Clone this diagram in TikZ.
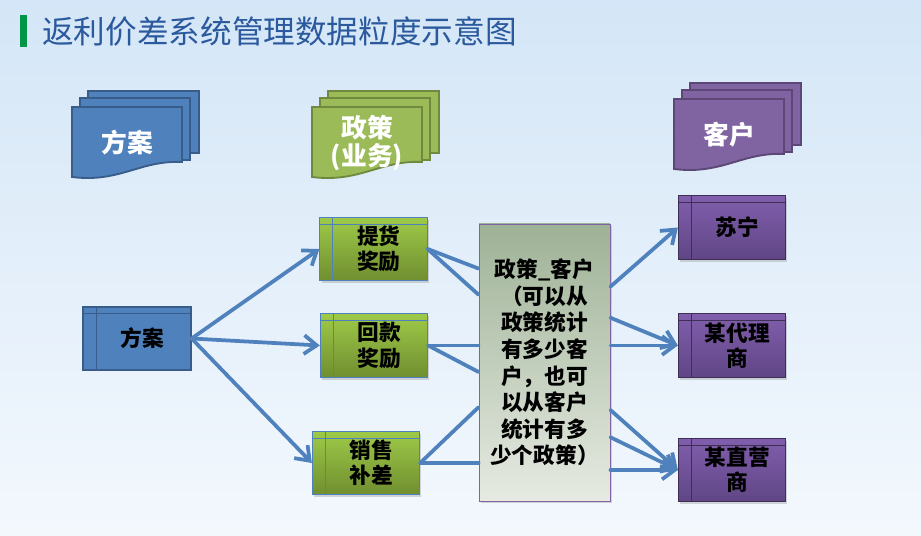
\documentclass[tikz,border=0pt]{standalone}
\usepackage{fontspec}
\setmainfont{Noto Sans CJK SC}
\usetikzlibrary{arrows.meta,calc,shadows}
\definecolor{bgTop}{RGB}{212,230,247}
\definecolor{bgBot}{RGB}{243,248,253}
\definecolor{ttlB}{RGB}{43,89,157}
\definecolor{ttlG}{RGB}{0,150,70}
\definecolor{figB}{RGB}{79,129,189}
\definecolor{figBd}{RGB}{56,93,138}
\definecolor{figG}{RGB}{155,187,89}
\definecolor{figGd}{RGB}{113,137,63}
\definecolor{figGt}{RGB}{158,202,72}
\definecolor{figGb}{RGB}{112,142,48}
\definecolor{figP}{RGB}{128,100,162}
\definecolor{figPd}{RGB}{92,71,118}
\definecolor{figPt}{RGB}{128,94,172}
\definecolor{figPb}{RGB}{96,70,134}
\definecolor{figPe}{RGB}{62,47,84}
\definecolor{pcTop}{RGB}{158,178,150}
\definecolor{pcBot}{RGB}{230,234,226}

% stack of pages: name, x, y (top left of front page), fill, border, label
\newcommand{\docstack}[6]{%
\begin{scope}[shift={(#2,#3)}]
\filldraw[fill=#4,draw=#5,line width=1.6pt] (16,-16) rectangle (127,46);
\filldraw[fill=#4,draw=#5,line width=1.6pt] (8,-9) rectangle (118,53);
\filldraw[fill=#4,draw=#5,line width=1.6pt] (0,0) -- (110,0) -- (110,55) .. controls (68,53) and (48,76) .. (0,70) -- cycle;
\node[stacklabel] (#1) at (55,36) {#6};
\end{scope}}

\begin{document}
\begin{tikzpicture}[x=0.03cm,y=-0.03cm,
  stacklabel/.style={white,align=center,inner sep=0pt,font=\bfseries\fontsize{22}{24}\selectfont},
  store/.style={draw=#1,line width=.8pt,minimum width=3.22cm,minimum height=1.9cm,inner sep=0pt,
    text width=2.9cm,align=center,execute at begin node={\advance\leftskip by 9pt},
    font=\bfseries\fontsize{18.5}{21.5}\selectfont,
    path picture={\draw[#1,line width=.8pt]
      ([yshift=-6pt]path picture bounding box.north west) -- ([yshift=-6pt]path picture bounding box.north east)
      ([xshift=11pt]path picture bounding box.north west) -- ([xshift=11pt]path picture bounding box.south west);}},
  gstore/.style={store=figB,top color=figGt,bottom color=figGb,drop shadow={opacity=.3,shadow xshift=1.5pt,shadow yshift=-2pt}},
  pstore/.style={store=figPe,top color=figPt,bottom color=figPb,drop shadow={opacity=.3,shadow xshift=1.5pt,shadow yshift=-2pt}},
  conn/.style={figB,line width=3.2pt,line cap=round},
  arr/.style={conn,-{Straight Barb[length=3.8mm,width=5.6mm]}}]
\shade[top color=bgTop,bottom color=bgBot] (0,0) rectangle (921,536);
\useasboundingbox (0,0) rectangle (921,536);
% title
\fill[ttlG] (20,15) rectangle (27,47);
\node[anchor=west,ttlB,inner sep=0pt,font=\fontsize{27}{27}\selectfont] (title) at (42,31) {返利价差系统管理数据粒度示意图};
% headers
\docstack{hdPlan}{72}{107}{figB}{figBd}{方案}
\docstack{hdPolicy}{312}{107}{figG}{figGd}{政策\\(业务)}
\docstack{hdCust}{674}{99}{figP}{figPd}{客户}
% boxes
\node[store=figBd,fill=figB,line width=1.6pt] (plan) at (137,338.5) {方案};
\node[gstore] (gA) at (373.5,249) {提货\\奖励};
\node[gstore] (gB) at (374,345.5) {回款\\奖励};
\node[gstore] (gC) at (366,463) {销售\\补差};
\node[draw=figP,line width=.8pt,top color=pcTop,bottom color=pcBot,minimum width=3.93cm,minimum height=8.31cm,
  align=center,inner sep=0pt,font=\bfseries\fontsize{18.5}{22.7}\selectfont,
  drop shadow={opacity=.3,shadow xshift=1.5pt,shadow yshift=-2pt}] (pc) at (544.5,362.5)
  {政策\_客户\\（可以从\\政策统计\\有多少客\\户，也可\\以从客户\\统计有多\\少个政策）};
\node[pstore] (cA) at (732,227.5) {苏宁};
\node[pstore] (cB) at (732,345.5) {某代理\\商};
\node[pstore] (cC) at (732,470) {某直营\\商};
% ends on the middle box
\foreach \f/\n in {0.162/l1,0.256/l2,0.534/l3,0.661/l4}
  \coordinate (pc\n) at ($(pc.north west)!\f!(pc.south west)$);
\foreach \f/\n in {0.227/r1,0.339/r2,0.671/r3,0.769/r4}
  \coordinate (pc\n) at ($(pc.north east)!\f!(pc.south east)$);
% connectors
\foreach \t in {gA,gB,gC} \draw[arr] (plan.east) -- (\t.west);
\draw[conn] (gA.east) -- (pcl1);
\draw[conn] (gA.east) -- (pcl2);
\draw[conn] (gB.east) -- (gB.east -| pc.west);
\draw[conn] (gB.east) -- (pcl3);
\draw[conn] (gC.east) -- (pcl4);
\draw[conn] (gC.east) -- (gC.east -| pc.west);
\draw[arr] (pcr1) -- (cA.west);
\draw[arr] (pcr2) -- (cB.west);
\draw[arr] (pc.east |- cB.west) -- (cB.west);
\draw[arr] (pcr3) -- (cC.west);
\draw[arr] (pcr4) -- (cC.west);
\draw[arr] (pc.east |- cC.west) -- (cC.west);
\end{tikzpicture}
\end{document}
